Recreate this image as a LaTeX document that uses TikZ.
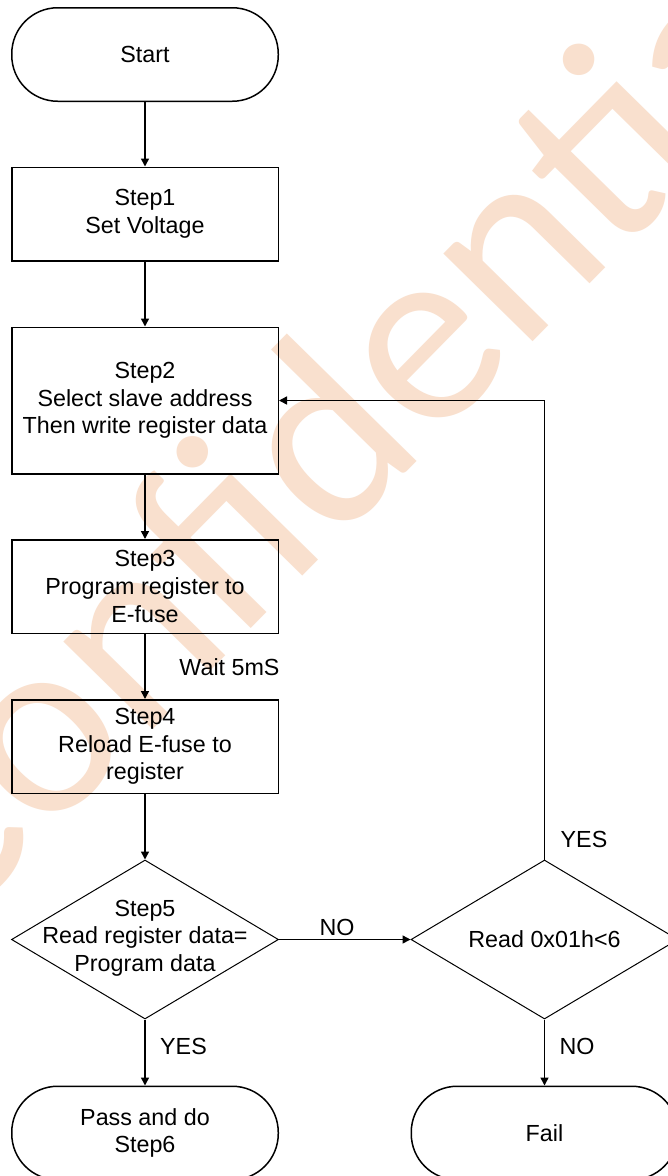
\documentclass[tikz,border=0pt]{standalone}
\usepackage{fontspec}
\setmainfont{Liberation Sans}
\newfontfamily\wmfont{Carlito}
\usetikzlibrary{shapes.geometric,arrows.meta}
\definecolor{wm}{RGB}{249,224,206}
\begin{document}
\begin{tikzpicture}[x=1pt,y=-1pt,
  every node/.style={font=\fontsize{23.3}{27.6}\selectfont, inner sep=0pt},
  box/.style={draw, line width=1.5pt, minimum width=266.5pt, minimum height=93.5pt, align=center},
  term/.style={draw, line width=1.5pt, rounded corners=46pt, minimum width=266.5pt, minimum height=93.5pt, align=center},
  dia/.style={draw, diamond, line width=1pt, minimum width=267pt, minimum height=159pt, inner sep=0pt},
  lbl/.style={anchor=base, align=center},
  txt/.style={align=center},
  arr/.style={line width=1.5pt, -{Triangle[length=8pt,width=8pt]}},
]
\useasboundingbox (0,0) rectangle (668,1176);
\clip (0,0) rectangle (668,1176);
\fill[white] (0,0) rectangle (668,1176);

% watermark
\node[font=\wmfont\fontsize{262}{262}\selectfont, text=wm, rotate=45.5, anchor=base] (wmark) at (397,481) {Confidential};

% nodes
\node[term] (start) at (145,54.5) {Start};
\node[box] (step1) at (145,214) {Step1\\Set Voltage};
\node[box, minimum height=146.5pt] (step2) at (145,400.5) {Step2\\Select slave address\\Then write register data};
\node[box] (step3) at (145,586.5) {Step3\\Program register to\\E-fuse};
\node[box] (step4) at (145,746.5) {Step4\\Reload E-fuse to\\register};
\node[dia] (step5) at (145,939.5) {};
\node[txt] (step5t) at (145,938) {Step5\\Read register data=\\Program data};
\node[dia] (read) at (544.5,939.5) {};
\node[txt] (readt) at (544.5,939.5) {Read 0x01h<6};
\node[term] (pass) at (145,1133) {Pass and do\\Step6};
\node[term] (fail) at (544.5,1133) {Fail};

% connectors
\draw[arr] (start.south) -- (step1.north);
\draw[arr] (step1.south) -- (step2.north);
\draw[arr] (step2.south) -- (step3.north);
\draw[arr] (step3.south) -- (step4.north);
\draw[arr] (step4.south) -- (step5.north);
\draw[arr] (step5.east) -- (read.west);
\draw[arr] (step5.south) -- (pass.north);
\draw[arr] (read.south) -- (fail.north);
\draw[arr] (read.north) -- (read.north |- step2.east) -- (step2.east);

% labels
\node[lbl] (lwait) at (229.5,675) {Wait 5mS};
\node[lbl] (lno1) at (337,935) {NO};
\node[lbl] (lyes1) at (183.5,1054) {YES};
\node[lbl] (lno2) at (577,1054) {NO};
\node[lbl] (lyes2) at (584,847) {YES};
\end{tikzpicture}
\end{document}
